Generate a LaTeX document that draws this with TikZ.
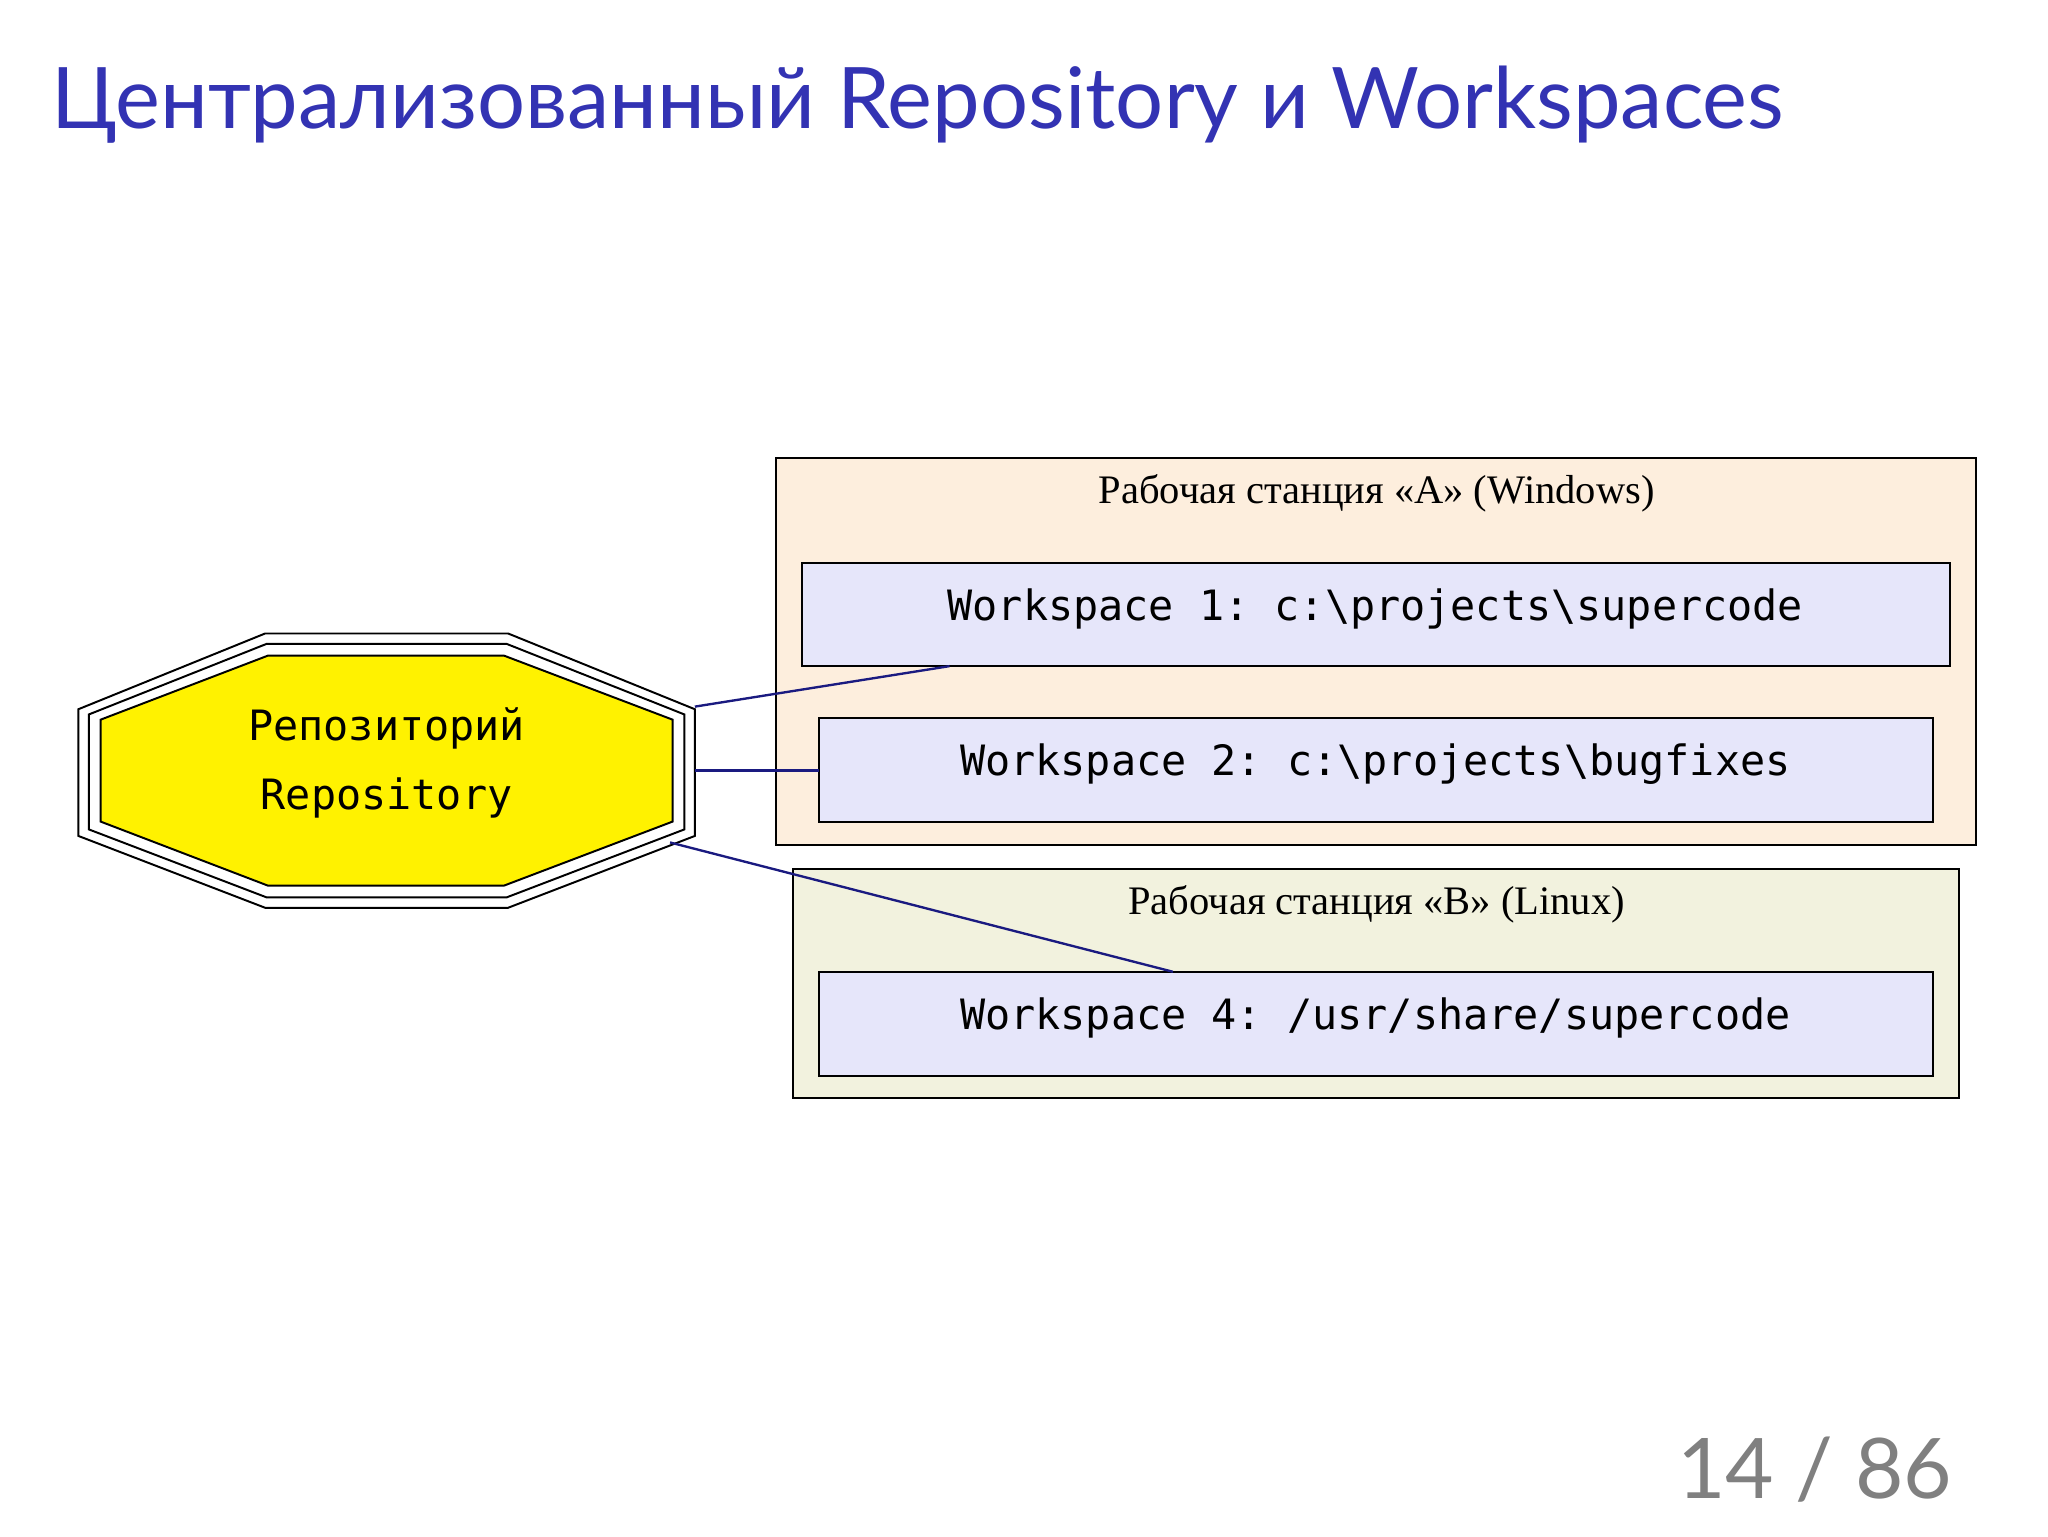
\documentclass[tikz,border=0pt]{standalone}
\usepackage{fontspec}
\setmainfont{Liberation Serif}
\setsansfont{Lato}
\setmonofont{DejaVu Sans Mono}
\definecolor{titleblue}{HTML}{3333B3}
\definecolor{clA}{HTML}{FDEEDD}
\definecolor{clB}{HTML}{F2F2DE}
\definecolor{wsfill}{HTML}{E6E6FA}
\definecolor{edgec}{HTML}{1A1A80}
\tikzset{
  wsbox/.style={draw=black,line width=1.5pt,fill=wsfill},
  clbox/.style={draw=black,line width=1.5pt},
  wstext/.style={font=\ttfamily\fontsize{32}{37}\selectfont},
  cltext/.style={font=\rmfamily\fontsize{31}{36}\selectfont},
  edge/.style={draw=edgec,line width=1.8pt}
}
\begin{document}
\begin{tikzpicture}[x=1pt,y=-1pt]
\useasboundingbox[fill=white] (0,0) rectangle (1568,1176);
\node[anchor=west,text=titleblue,font=\sffamily\fontsize{65}{75}\selectfont] (title) at (36,80) {Централизованный Repository и Workspaces};
% clusters
\draw[clbox,fill=clA] (594,351) rectangle (1513,647);
\node[cltext] (labA) at (1054,378) {Рабочая станция «A» (Windows)};
\draw[clbox,fill=clB] (607,665) rectangle (1500,841);
\node[cltext] (labB) at (1054,692) {Рабочая станция «B» (Linux)};
% workspaces
\draw[wsbox] (614,431) rectangle (1493,510);
\node[wstext] (ws1) at (1053,466) {Workspace 1: c:\textbackslash projects\textbackslash supercode};
\coordinate (ws1b) at (727,510);
\draw[wsbox] (627,550) rectangle (1480,629);
\node[wstext] (ws2) at (1053,585) {Workspace 2: c:\textbackslash projects\textbackslash bugfixes};
\coordinate (ws2l) at (627,590);
\draw[wsbox] (627,744) rectangle (1480,824);
\node[wstext] (ws4) at (1053,779) {Workspace 4: /usr/share/supercode};
\coordinate (ws4t) at (898,744);
% repository octagon
\draw[line width=1.5pt,fill=white] (60,543)--(203,485)--(389,485)--(532,543)--(532,640)--(389,695)--(203,695)--(60,640)--cycle;
\draw[line width=1.5pt] (68,547)--(204,493)--(388,493)--(524,547)--(524,635)--(388,687)--(204,687)--(68,635)--cycle;
\draw[line width=1.5pt,fill=yellow] (77,551)--(205,502)--(386,502)--(515,551)--(515,629)--(386,678)--(205,678)--(77,629)--cycle;
\node[align=center,font=\ttfamily\fontsize{32}{53}\selectfont] (repo) at (296,584) {Репозиторий\\Repository};
\coordinate (r1) at (532,541);
\coordinate (r2) at (532,590);
\coordinate (r3) at (513,645);
\draw[edge] (r1) -- (ws1b);
\draw[edge] (r2) -- (ws2l);
\draw[edge] (r3) -- (ws4t);
\node[anchor=east,text=gray,font=\sffamily\fontsize{64}{74}\selectfont] (page) at (1498,1125) {14 / 86};
\end{tikzpicture}
\end{document}
